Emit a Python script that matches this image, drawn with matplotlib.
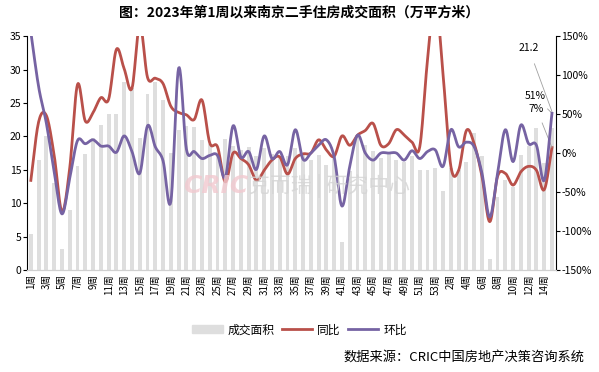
import numpy as np
import matplotlib
matplotlib.use("Agg")
import matplotlib.pyplot as plt
from matplotlib.patches import Patch
from matplotlib.lines import Line2D

plt.rcParams['font.family'] = ['Noto Sans CJK SC', 'DejaVu Sans']
plt.rcParams['axes.unicode_minus'] = False

# weeks: 2023 week 1-53, then 2024 week 1-15
weeks = list(range(1, 54)) + list(range(1, 16))

area = [5.4, 16.5, 20.0, 13.0, 3.2, 9.0, 15.6, 17.3, 19.8, 21.7,
        23.3, 23.3, 28.1, 27.2, 19.8, 26.3, 28.1, 25.4, 17.5, 21.0,
        21.6, 21.4, 19.5, 18.8, 17.2, 19.6, 18.6, 17.9, 18.4, 17.1,
        18.3, 17.4, 16.9, 17.0, 18.2, 17.4, 16.5, 17.2, 15.7, 16.9,
        4.2, 14.8, 20.2, 18.7, 17.8, 16.8, 17.4, 16.5, 16.2, 17.0,
        15.0, 15.0, 15.2, 11.8, 15.2, 15.0, 16.2, 20.5, 17.0, 1.6,
        11.0, 13.5, 12.5, 17.2, 18.5, 21.2, 16.0, 21.2]

yoy = [-35, 40, 48, -3, -75, -19, 88, 41, 52, 71,
       69, 133, 108, 83, 165, 97, 96, 89, 60, 52,
       49, 43, 68, 13, 8, -37, 0, -7, -15, -35,
       -22, -9, -5, -27, -7, -1, 0, 17, 4, -4,
       22, 10, 23, 29, 38, 10, 12, 30, 23, 14,
       8, 120, 200, 100, -17, -22, 29, 12, -30, -88,
       -30, -26, -41, -24, -17, -22, -47, 7]

mom = [155, 85, 38, -24, -78, -32, 16, 12, 17, 9,
       9, 1, 22, 2, -26, 35, 8, -10, -62, 109,
       5, 2, -7, -3, -3, -31, 35, -5, 2, -21,
       22, -7, 2, -15, 30, -8, 0, 10, 17, -5,
       -68, -17, 23, 0, -9, 0, 0, 0, -9, 3,
       -7, 2, 4, -17, 30, 8, 14, 8, -26, -82,
       -26, 30, -11, 36, 12, 10, -35, 51]

labels = [f"{w}周" for w in weeks]


def smooth(x, y, n=12):
    # Catmull-Rom curve, like the smoothed lines in Excel
    x = np.asarray(x, float)
    y = np.asarray(y, float)
    px = np.concatenate([[2 * x[0] - x[1]], x, [2 * x[-1] - x[-2]]])
    py = np.concatenate([[2 * y[0] - y[1]], y, [2 * y[-1] - y[-2]]])
    t = np.linspace(0, 1, n, endpoint=False)
    xs, ys = [], []
    for i in range(1, len(px) - 2):
        for p, out in ((px, xs), (py, ys)):
            p0, p1, p2, p3 = p[i - 1], p[i], p[i + 1], p[i + 2]
            out.extend(0.5 * (2 * p1 + (-p0 + p2) * t
                              + (2 * p0 - 5 * p1 + 4 * p2 - p3) * t ** 2
                              + (-p0 + 3 * p1 - 3 * p2 + p3) * t ** 3))
    xs.append(x[-1])
    ys.append(y[-1])
    return np.array(xs), np.array(ys)


red = '#b9504a'
purple = '#7663a3'
bar_c = '#dedede'

fig = plt.figure(figsize=(5.99, 3.72), dpi=100)
ax = fig.add_axes([0.045, 0.274, 0.883, 0.629])
ax2 = ax.twinx()

x = np.arange(len(weeks))
ax.bar(x, area, width=0.5, color=bar_c, zorder=1)
ax.set_ylim(0, 35)
ax.set_yticks(range(0, 36, 5))
ax.set_xlim(-0.5, len(weeks) - 0.5)
ax.set_xticks(x[::2])
ax.set_xticklabels(labels[::2], rotation=90, fontsize=7, va='top')
ax.tick_params(axis='x', length=0, pad=3)
ax.tick_params(axis='y', labelsize=7.5, length=3, pad=1)

sx, sy = smooth(x, yoy)
ax2.plot(sx, sy, color=red, lw=2.0, zorder=3)
sx, sy = smooth(x, mom)
ax2.plot(sx, sy, color=purple, lw=2.0, zorder=4)
ax2.set_ylim(-150, 150)
ax2.set_yticks(range(-150, 151, 50))
ax2.set_yticklabels([f"{v}%" for v in range(-150, 151, 50)])
ax2.tick_params(axis='y', labelsize=7.5, length=3, pad=1)

for a in (ax, ax2):
    a.spines['top'].set_visible(False)
    a.spines['bottom'].set_color('#d0d0d0')
ax.spines['right'].set_visible(False)
ax2.spines['left'].set_visible(False)

# data labels for the last week
last = len(weeks) - 1
ax.annotate(f"{area[-1]}", xy=(last, 23.7), xytext=(last - 3.0, 33.2),
            fontsize=7.5, ha='center', va='center',
            arrowprops=dict(arrowstyle='-', color='#a0a0a0', lw=0.6,
                            shrinkA=6, shrinkB=0))
ax2.annotate(f"{mom[-1]}%", xy=(last, mom[-1]), xytext=(last - 2.2, 73),
             fontsize=7.5, ha='center', va='center',
             arrowprops=dict(arrowstyle='-', color='#a0a0a0', lw=0.6,
                             shrinkA=5, shrinkB=0))
ax2.annotate(f"{yoy[-1]}%", xy=(last, yoy[-1]), xytext=(last - 2.0, 57),
             fontsize=7.5, ha='center', va='center',
             arrowprops=dict(arrowstyle='-', color='#a0a0a0', lw=0.6,
                             shrinkA=5, shrinkB=0))

# faint logo in the middle of the plot
fig.text(0.36, 0.50, "CRIC", fontsize=18, fontweight='bold', style='italic',
         color='#f2c9cf', alpha=0.8, ha='center', va='center', zorder=0,
         family='DejaVu Sans')
fig.text(0.55, 0.50, "克而瑞 | 研究中心", fontsize=15, color='#d4d4d4',
         alpha=0.8, ha='center', va='center', zorder=0)

fig.text(0.5, 0.967, "图：2023年第1周以来南京二手住房成交面积（万平方米）",
         fontsize=10, fontweight='bold', ha='center', va='center')

handles = [Patch(color=bar_c, label='成交面积'),
           Line2D([], [], color=red, lw=2, label='同比'),
           Line2D([], [], color=purple, lw=2, label='环比')]
fig.legend(handles=handles, loc='center', bbox_to_anchor=(0.5, 0.113), ncol=3,
           frameon=False, fontsize=8.5, handlelength=2.6, columnspacing=0.6,
           handletextpad=0.4)

fig.text(0.975, 0.04, "数据来源：CRIC中国房地产决策咨询系统", fontsize=9.5,
         ha='right', va='center')

fig.savefig("out.png", dpi=100)
